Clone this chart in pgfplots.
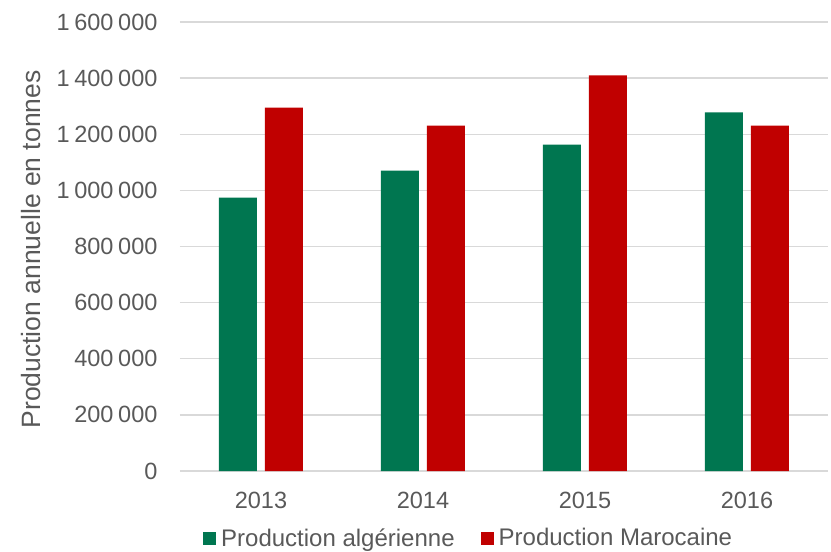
\documentclass[border=0pt]{standalone}
\usepackage{fontspec}
\setmainfont{Liberation Sans}
\usepackage{pgfplots}
\pgfplotsset{compat=1.18}
\definecolor{algG}{RGB}{0,118,80}
\definecolor{marR}{RGB}{192,0,0}
\definecolor{txtG}{RGB}{89,89,89}
\definecolor{gridG}{RGB}{217,217,217}
\newcommand{\ts}{\hspace{0.2em}}
\begin{document}
\begin{tikzpicture}
\begin{axis}[
  scale only axis,
  width=648pt, height=449pt,
  xmin=-0.5, xmax=3.5,
  ymin=0, ymax=1600000,
  scaled y ticks=false,
  ybar=8pt, bar width=38pt,
  xtick={0,1,2,3},
  xticklabels={2013,2014,2015,2016},
  ytick={0,200000,400000,600000,800000,1000000,1200000,1400000,1600000},
  yticklabels={0,200\ts000,400\ts000,600\ts000,800\ts000,1\ts000\ts000,1\ts200\ts000,1\ts400\ts000,1\ts600\ts000},
  ymajorgrids,
  grid style={gridG, line width=1.3pt},
  major tick length=0pt,
  axis x line*=bottom,
  axis y line*=left,
  y axis line style={draw=none},
  x axis line style={gridG, line width=1.3pt, -},
  ticklabel style={font=\fontsize{23.5}{27}\selectfont, text=txtG},
  yticklabel style={xshift=-19pt},
  xticklabel style={yshift=-18pt},
  ylabel={Production annuelle en tonnes},
  ylabel style={font=\fontsize{26.5}{30}\selectfont, text=txtG},
  every axis y label/.append style={at={(axis description cs:-0.23,0.4935)}, anchor=center},
  legend style={at={(rel axis cs:0,0)}, anchor=west, xshift=20pt, yshift=-67pt, draw=none, fill=none,
    font=\fontsize{24}{27}\selectfont, text=txtG, legend columns=2,
    /tikz/every odd column/.append style={column sep=3pt},
    /tikz/every even column/.append style={column sep=24pt}},
  legend image code/.code={\fill[#1,draw=none] (0pt,-6.5pt) rectangle (13pt,6.5pt);},
  /pgf/number format/assume math mode=true,
]
\addplot[fill=algG, draw=none] coordinates {(0,974000) (1,1070000) (2,1163000) (3,1278000)};
\addplot[fill=marR, draw=none] coordinates {(0,1295000) (1,1231000) (2,1410000) (3,1231000)};
\legend{Production algérienne, Production Marocaine}
\end{axis}
\path (-180pt,-79pt) rectangle (651pt,471pt);
\end{tikzpicture}
\end{document}
